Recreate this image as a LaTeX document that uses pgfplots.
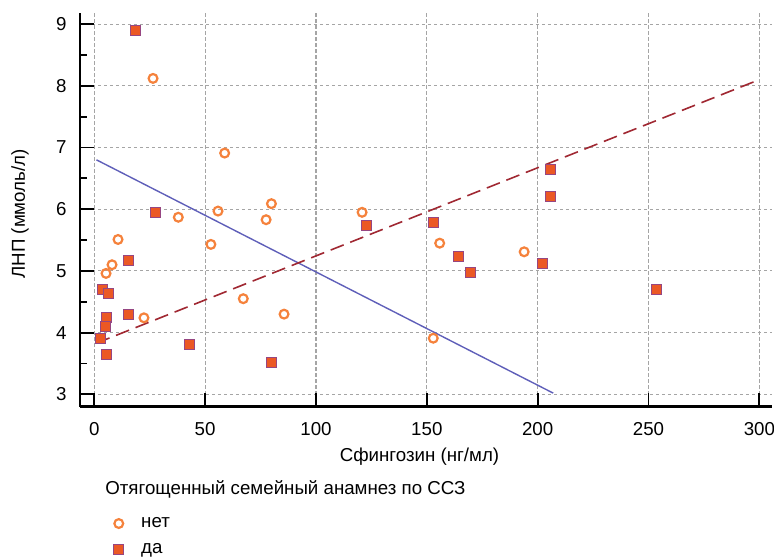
\documentclass[border=0pt]{standalone}
\usepackage{fontspec}
\setmainfont{Liberation Sans}
\usepackage{pgfplots}
\pgfplotsset{compat=1.18}
\definecolor{sqfill}{RGB}{235,88,36}
\definecolor{sqdraw}{RGB}{150,70,130}
\definecolor{circ}{RGB}{245,130,60}
\definecolor{blueline}{RGB}{95,95,185}
\definecolor{redline}{RGB}{160,40,50}
\definecolor{gridc}{RGB}{165,165,165}
\newcommand{\fs}{\fontsize{9.35}{11}\selectfont}
\pgfplotsset{mylegend/.style={legend image code/.code={\path (-3pt,0) (9pt,0); \draw[##1] plot coordinates {(0pt,0pt)};}}}
\begin{document}
\fs
\begin{tikzpicture}
\begin{axis}[
  scale only axis, width=346pt, height=196.85pt,
  xmin=-6.45, xmax=305.7, ymin=2.8, ymax=9.18,
  axis x line=bottom, axis y line=left,
  every outer x axis line/.append style={line width=1.4pt, black, -},
  every outer y axis line/.append style={line width=1.4pt, black, -},
  xtick={0,50,...,300}, ytick={3,...,9},
  minor ytick={3.5,4.5,...,8.5},
  xtick pos=bottom, ytick pos=left,
  tick align=inside,
  major tick length=7pt, minor tick length=3.5pt,
  tick style={line width=0.9pt, black},
  minor tick style={line width=0.9pt, black},
  grid=major,
  major grid style={gridc, line width=0.55pt, dash pattern=on 1.7pt off 1.3pt},
  /pgf/number format/assume math mode=true,
  ticklabel style={font=\fs, inner sep=0pt},
  xticklabel style={anchor=base, yshift=-14.5pt},
  yticklabel style={anchor=east, xshift=-6.5pt},
  xlabel={Сфингозин (нг/мл)}, ylabel={ЛНП (ммоль/л)},
  every axis x label/.style={at={(axis description cs:0.5,0)}, anchor=center, yshift=-25pt, xshift=-3.25pt, font=\fs},
  every axis y label/.style={at={(axis description cs:0,0.5)}, rotate=90, anchor=center, yshift=30pt, xshift=-2pt, font=\fs},
  legend style={at={(rel axis cs:0.0361,0)}, anchor=north west, xshift=3.5pt, yshift=-53pt, draw=none, fill=none, inner sep=0pt, row sep=2.5pt, font=\fs},
  legend cell align=left,
  clip=false,
]
\addplot[blueline, line width=0.7pt, forget plot] coordinates {(1,6.80) (207,3.02)};
\addplot[redline, line width=0.8pt, dash pattern=on 7pt off 3.5pt, forget plot] coordinates {(1,3.83) (300,8.10)};
\addplot[only marks, mark=o, mark size=2.2pt, mark options={draw=circ, fill=white, line width=1.1pt}, mylegend] coordinates {
(26.5,8.12) (58.8,6.91) (37.9,5.87) (55.8,5.97) (77.5,5.83) (79.9,6.09) (52.6,5.43)
(10.7,5.51) (8.0,5.10) (5.3,4.96) (67.2,4.55) (85.6,4.30) (22.4,4.24) (120.8,5.95)
(155.8,5.45) (193.9,5.31) (152.9,3.91)
};
\addlegendentry{нет}
\addplot[only marks, mark=square*, mark size=2.5pt, mark options={draw=sqdraw, fill=sqfill, line width=0.5pt}, mylegend] coordinates {
(18.4,8.90) (27.7,5.95) (15.3,5.17) (3.8,4.70) (6.6,4.64) (5.6,4.25) (5.0,4.10)
(15.5,4.30) (2.6,3.91) (5.6,3.65) (43.0,3.81) (79.9,3.51) (122.6,5.73)
(152.9,5.79) (164.5,5.23) (169.9,4.97) (205.6,6.64) (205.6,6.21) (202.4,5.12) (253.5,4.70)
};
\addlegendentry{да}
\coordinate (SW) at (rel axis cs:0,0);
\coordinate (NE) at (rel axis cs:1,1);
\coordinate (T) at (rel axis cs:0.0361,0);
\end{axis}
\node[anchor=base west, inner sep=0pt, font=\fs] at ([yshift=-44.15pt]T) {Отягощенный семейный анамнез по ССЗ};
\pgfresetboundingbox
\path[use as bounding box] ([xshift=-40pt,yshift=-75.15pt]SW) rectangle ([xshift=1pt,yshift=6.5pt]NE);
\end{tikzpicture}
\end{document}
